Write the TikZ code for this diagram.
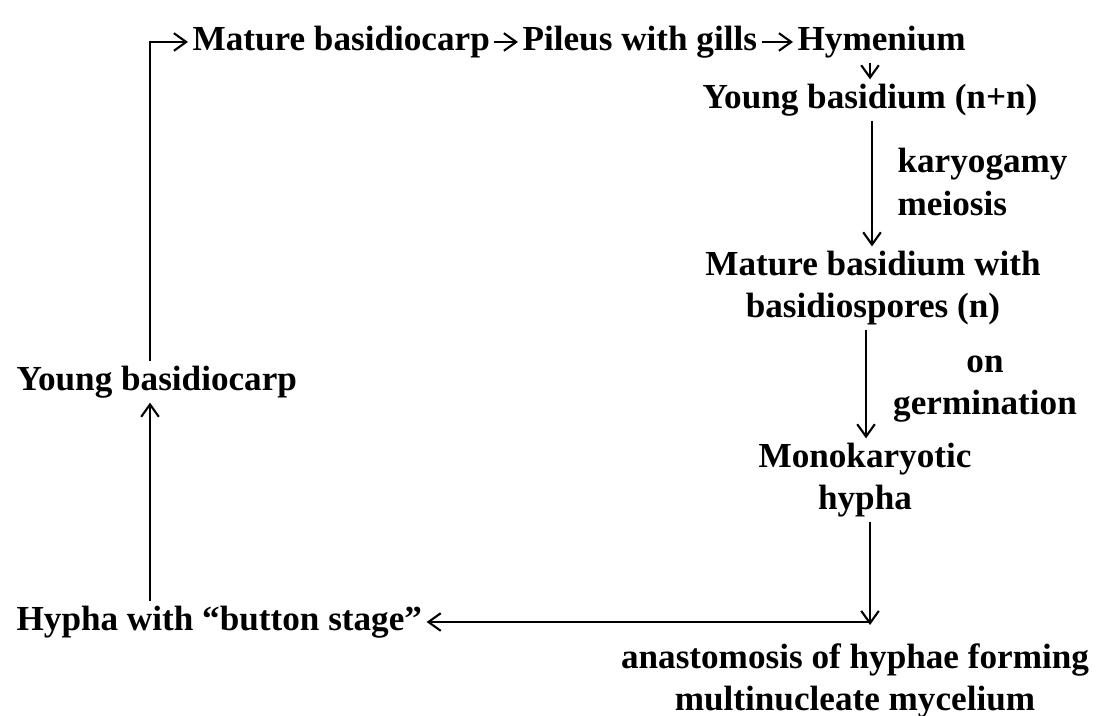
\documentclass[tikz,border=0pt]{standalone}
\usepackage{fontspec}
\setmainfont{Liberation Serif}
\usetikzlibrary{arrows.meta}
\begin{document}
\begin{tikzpicture}[>={Straight Barb[length=3.5pt,width=5pt]}, x=0.01cm, y=-0.01cm, line width=0.6pt,
  txt/.style={font=\bfseries, inner sep=1pt}]
\useasboundingbox (0,0) rectangle (1104,716);
\node[txt, anchor=west] (mbc) at (188,42) {Mature basidiocarp};
\node[txt, anchor=west] (pil) at (518,42) {Pileus with gills};
\node[txt, anchor=west] (hym) at (793,42) {Hymenium};
\draw[->] (mbc) -- (pil);
\draw[->] (pil) -- (hym);
\node[txt] (yb) at (870,100) {Young basidium (n+n)};
\node[txt, align=left, anchor=west] (kar) at (893,182) {karyogamy\\meiosis};
\node[txt, align=center] (mb) at (873,288) {Mature basidium with\\basidiospores (n)};
\node[txt, align=center] (germ) at (985,389) {on\\germination};
\node[txt, align=center] (mk) at (865,480) {Monokaryotic\\hypha};
\node[txt, anchor=west] (bs) at (12,622) {Hypha with “button stage”};
\node[txt, anchor=west] (ybc) at (12,382) {Young basidiocarp};
\node[txt, align=center] (ana) at (855,681) {anastomosis of hyphae forming\\multinucleate mycelium};
\coordinate (lx) at (150,0);
\coordinate (jn) at (870,622);
\draw[->] (hym.south -| yb.north) -- (yb.north);
\draw[->] (yb.south -| 872,0) -- (mb.north -| 872,0);
\draw[->] (mb.south -| 866,0) -- (mk.north -| 866,0);
\draw[->] (mk.south -| jn) -- ([yshift=-0.03cm]jn);
\draw[->] (jn) -- (bs.east);
\draw[->] (bs.north -| lx) -- (ybc.south -| lx);
\draw[->] (ybc.north -| lx) |- (mbc.west);
\end{tikzpicture}
\end{document}
